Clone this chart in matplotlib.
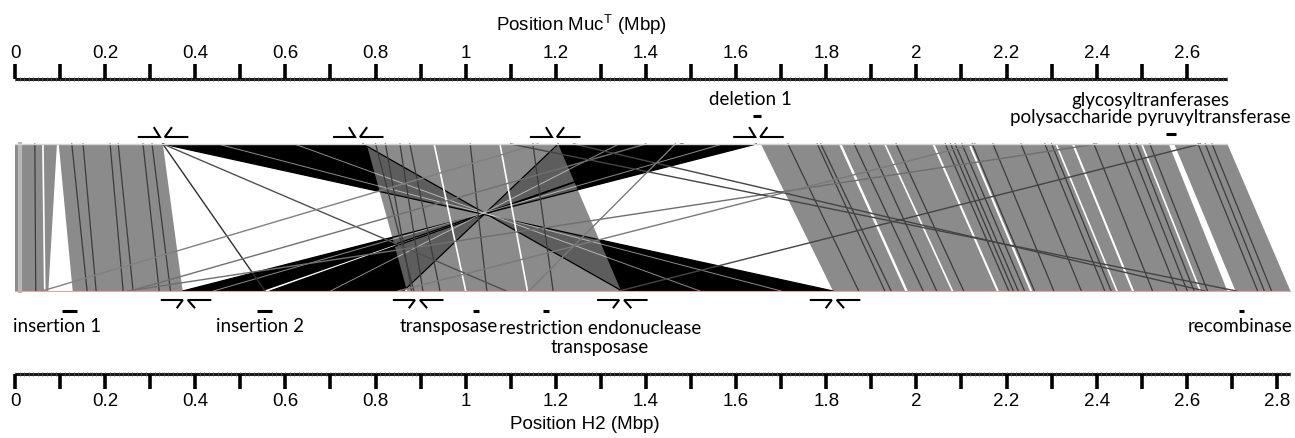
import numpy as np
import matplotlib
matplotlib.use("Agg")
import matplotlib.pyplot as plt
from matplotlib.patches import Polygon

plt.rcParams['mathtext.fontset'] = 'custom'
plt.rcParams['mathtext.rm'] = 'Liberation Sans'
plt.rcParams['mathtext.it'] = 'Liberation Sans:italic'

# ------------------------------------------------------------------ data
muc_length = 2.69   # Mbp (top genome, MucT)
h2_length = 2.83    # Mbp (bottom genome, H2)

top_major_ticks = [0.0, 0.1, 0.2, 0.3, 0.4, 0.5, 0.6, 0.7, 0.8, 0.9, 1.0, 1.1, 1.2, 1.3,
                   1.4, 1.5, 1.6, 1.7, 1.8, 1.9, 2.0, 2.1, 2.2, 2.3, 2.4, 2.5, 2.6]
top_label_values = [0, 0.2, 0.4, 0.6, 0.8, 1, 1.2, 1.4, 1.6, 1.8, 2, 2.2, 2.4, 2.6]
top_label_texts = ["0", "0.2", "0.4", "0.6", "0.8", "1", "1.2", "1.4", "1.6", "1.8",
                   "2", "2.2", "2.4", "2.6"]
bottom_major_ticks = top_major_ticks + [2.7, 2.8]
bottom_label_values = top_label_values + [2.8]
bottom_label_texts = top_label_texts + ["2.8"]

# collinear (forward) matches: (top start, top end, bottom start, bottom end)
fwd_blocks = [
    (0.000, 0.093, 0.000, 0.074),
    (0.097, 0.328, 0.128, 0.372),
    (0.780, 1.205, 0.870, 1.345),
    (1.655, 1.828, 1.815, 1.975),
    (1.834, 2.035, 1.981, 2.178),
    (2.040, 2.115, 2.183, 2.252),
    (2.120, 2.345, 2.257, 2.478),
    (2.350, 2.560, 2.483, 2.690),
    (2.572, 2.690, 2.708, 2.830),
]

# inverted matches: (top start, top end, bottom start, bottom end)
inv_blocks = [
    (0.328, 0.772, 1.347, 1.815),
    (1.205, 1.478, 0.566, 0.862),
    (1.482, 1.645, 0.372, 0.546),
]

# thin dark sub-match borders inside collinear blocks: (top, bottom)
dark_lines_top = [0.044, 0.126, 0.151, 0.211, 0.229, 0.284, 0.304,
                  0.800, 0.822, 0.854, 0.876, 1.010, 1.149,
                  1.715, 1.780, 1.788, 1.862, 1.895, 1.955, 2.064, 2.076, 2.086, 2.101,
                  2.124, 2.170, 2.232, 2.285, 2.300, 2.394, 2.448, 2.472, 2.488,
                  2.518, 2.625, 2.641, 2.656]
dark_lines_bot = [0.046, 0.160, 0.180, 0.240, 0.262, 0.320, 0.345,
                  0.885, 0.880, 0.905, 0.943, 1.047, 1.194,
                  1.872, 1.930, 1.944, 2.015, 2.045, 2.105, 2.205, 2.215, 2.226, 2.240,
                  2.262, 2.305, 2.366, 2.418, 2.432, 2.524, 2.578, 2.601, 2.616,
                  2.646, 2.757, 2.772, 2.788]

# thin white gaps: (top, bottom)
white_lines_top = [0.062, 1.076, 0.930, 1.930, 2.310, 2.500]
white_lines_bot = [0.066, 1.137, 1.000, 2.080, 2.445, 2.630]

# light stripe at the very left
light_lines_top = [0.012]
light_lines_bot = [0.012]

# white gaps inside the inverted bundles: (top, bottom)
inv_gap_top = [1.570, 1.340, 0.450, 0.620]
inv_gap_bot = [0.440, 0.700, 1.700, 1.520]

# repeat hits crossing the plot: (top, bottom, grey level)
repeat_top = [0.328, 0.328, 1.160, 1.400, 2.400, 1.240, 1.100, 2.630, 1.465, 2.130]
repeat_bot = [0.555, 1.090, 0.060, 0.255, 0.250, 2.640, 2.710, 1.340, 1.140, 0.850]
repeat_col = ['#2e2e2e', '#505050', '#808080', '#707070', '#6e6e6e',
              '#444444', '#444444', '#444444', '#7a7a7a', '#7a7a7a']

# rearrangement breakpoints
top_breaks = [0.328, 0.761, 1.198, 1.649]
bottom_breaks = [0.379, 0.894, 1.347, 1.819]

# annotated features (start, end) in Mbp
top_feature_names = ["deletion 1", "glycosyltranferases\npolysaccharide pyruvyltransferase"]
top_feature_start = [1.637, 2.554]
top_feature_end = [1.655, 2.576]
bottom_feature_names = ["insertion 1", "insertion 2", "transposase",
                        "restriction endonuclease\ntransposase", "recombinase"]
bottom_feature_start = [0.104, 0.537, 1.017, 1.171, 2.716]
bottom_feature_end = [0.137, 0.570, 1.030, 1.185, 2.726]

# ------------------------------------------------------------------ layout
W, H = 1295, 439
X0_PX, PX_PER_MBP = 15.0, 450.7
fig = plt.figure(figsize=(W / 100, H / 100), dpi=100)
ax = fig.add_axes([0, 0, 1, 1])
ax.set_xlim(-X0_PX / PX_PER_MBP, (W - X0_PX) / PX_PER_MBP)
ax.set_ylim(H, 0)
ax.axis('off')
px = 1.0 / PX_PER_MBP

Y_TOP, Y_BOT = 145, 292
GREY = '#8b8b8b'
TICK_FONT = dict(family=['Liberation Sans', 'DejaVu Sans'], fontsize=13.5)
ANN_FONT = dict(family=['Lato', 'DejaVu Sans'], fontsize=13.5)


def fwd_poly(ts, te, bs, be, **kw):
    ax.add_patch(Polygon([(ts, Y_TOP), (te, Y_TOP), (be, Y_BOT), (bs, Y_BOT)],
                         closed=True, linewidth=0, **kw))


def inv_poly(ts, te, bs, be, **kw):
    ax.add_patch(Polygon([(ts, Y_TOP), (te, Y_TOP), (bs, Y_BOT), (be, Y_BOT)],
                         closed=True, linewidth=0, **kw))


# inverted bundles (black)
for ts, te, bs, be in inv_blocks:
    inv_poly(ts, te, bs, be, facecolor='black', zorder=2)

# collinear blocks (grey)
for ts, te, bs, be in fwd_blocks:
    fwd_poly(ts, te, bs, be, facecolor=GREY, zorder=3)

# darken where inverted bundles cross the middle block
for ts, te, bs, be in inv_blocks:
    inv_poly(ts, te, bs, be, facecolor='black', alpha=0.33, zorder=4)
    ax.plot([ts, be], [Y_TOP, Y_BOT], color='black', lw=0.9, zorder=4)
    ax.plot([te, bs], [Y_TOP, Y_BOT], color='black', lw=0.9, zorder=4)

for t, b in zip(inv_gap_top, inv_gap_bot):
    ax.plot([t, b], [Y_TOP, Y_BOT], color='white', lw=0.7, alpha=0.55, zorder=4.5)

for t, b in zip(dark_lines_top, dark_lines_bot):
    ax.plot([t, b], [Y_TOP, Y_BOT], color='#3c3c3c', lw=0.9, zorder=5)
for t, b in zip(white_lines_top, white_lines_bot):
    ax.plot([t, b], [Y_TOP, Y_BOT], color='white', lw=1.2, zorder=5)
for t, b in zip(light_lines_top, light_lines_bot):
    ax.plot([t, b], [Y_TOP, Y_BOT], color='#b8b8b8', lw=3, zorder=5)

for t, b, c in zip(repeat_top, repeat_bot, repeat_col):
    ax.plot([t, b], [Y_TOP, Y_BOT], color=c, lw=1.0, zorder=6)

# edges of the comparison panel
ax.plot([0, muc_length], [Y_TOP, Y_TOP], color='#d4d4d4', lw=1.0, zorder=7)
ax.plot([0, h2_length], [Y_BOT, Y_BOT], color='#e2a6a6', lw=0.8, zorder=7)


# ------------------------------------------------------------------ rulers
def ruler(length, major, lab_vals, lab_txt, y_main, tick_end, label_y):
    ax.plot([0, length], [y_main, y_main], color='#1a1a1a', lw=2.2, solid_capstyle='butt')
    minor = np.arange(0, length + 1e-9, 0.01)
    ax.vlines(minor, y_main - 1.6, y_main + 1.6, color='#555555', lw=0.5)
    ax.vlines(major, min(y_main, tick_end), max(y_main, tick_end), color='black', lw=2.6)
    for v, t in zip(lab_vals, lab_txt):
        ax.text(v, label_y, t, ha='center', va='center', **TICK_FONT)


ruler(muc_length, top_major_ticks, top_label_values, top_label_texts, 80, 65, 53)
ruler(h2_length, bottom_major_ticks, bottom_label_values, bottom_label_texts, 375, 390, 402)

ax.text((582 - X0_PX) * px, 25, r'Position Muc$^{\mathrm{T}}$ (Mbp)',
        ha='center', va='center', **TICK_FONT)
ax.text((585 - X0_PX) * px, 425, 'Position H2 (Mbp)',
        ha='center', va='center', **TICK_FONT)


# ------------------------------------------------------------------ breakpoint marks
def mark(c, y, sign):
    # sign=-1: diagonals rise (top); sign=+1: diagonals drop (bottom)
    d = 9 if sign < 0 else 7.4
    ax.plot([c - 24 * px, c - 3 * px, c - 8.5 * px], [y, y, y + sign * d],
            color='black', lw=1.5, solid_joinstyle='miter')
    ax.plot([c + 24.5 * px, c + 2 * px, c + 8.5 * px], [y, y, y + sign * d],
            color='black', lw=1.5, solid_joinstyle='miter')


for c in top_breaks:
    mark(c, 138, -1)
for c in bottom_breaks:
    mark(c, 301, +1)

# ------------------------------------------------------------------ features
top_label_px = [(750, 100), (1150, 109)]
top_dash_y = [117, 135]
for name, s, e, (lx, ly), dy in zip(top_feature_names, top_feature_start, top_feature_end,
                                    top_label_px, top_dash_y):
    ax.plot([s, e], [dy, dy], color='black', lw=2.2, solid_capstyle='butt')
    ax.text((lx - X0_PX) * px, ly, name, ha='center', va='center',
            linespacing=1.0, **ANN_FONT)

bottom_label_px = [(57, 327), (260, 327), (449, 327), (600, 338), (1240, 327)]
for name, s, e, (lx, ly) in zip(bottom_feature_names, bottom_feature_start,
                                bottom_feature_end, bottom_label_px):
    ax.plot([s, e], [312, 312], color='black', lw=2.2, solid_capstyle='butt')
    ax.text((lx - X0_PX) * px, ly, name, ha='center', va='center',
            linespacing=1.15, **ANN_FONT)

fig.savefig('out.png', dpi=100)
